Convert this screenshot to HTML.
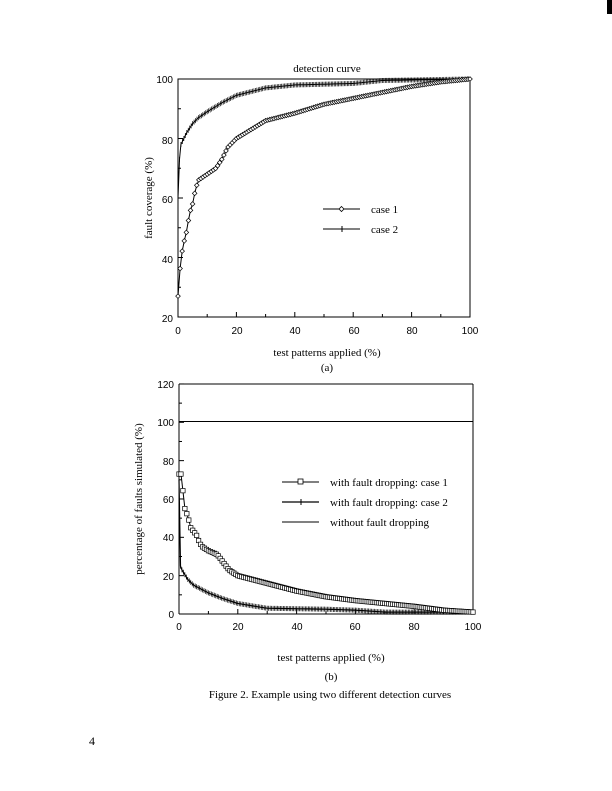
<!DOCTYPE html><html><head><style>body{margin:0;background:#fff}svg{display:block}</style></head><body>
<svg id="s" width="612" height="791" xmlns="http://www.w3.org/2000/svg" font-family="Liberation Serif, serif">
<rect x="607" y="0" width="5" height="14" fill="#000"/>
<text x="327" y="72" font-size="11" text-anchor="middle">detection curve</text>
<g font-family="Liberation Sans, sans-serif" font-size="10" text-anchor="end">
<text x="173" y="83">100</text><text x="173" y="144">80</text><text x="173" y="203">60</text><text x="173" y="263">40</text><text x="173" y="322">20</text>
</g>
<g font-family="Liberation Sans, sans-serif" font-size="10" text-anchor="middle">
<text x="178" y="334">0</text><text x="237" y="334">20</text><text x="295" y="334">40</text><text x="354" y="334">60</text><text x="412" y="334">80</text><text x="470" y="334">100</text>
</g>
<text x="327" y="356" font-size="11" text-anchor="middle">test patterns applied (%)</text>
<text x="327" y="371" font-size="11" text-anchor="middle">(a)</text>
<text transform="translate(152,198) rotate(-90)" font-size="11" text-anchor="middle">fault coverage (%)</text>
<rect x="178" y="79" width="292" height="238" fill="none" stroke="#000" stroke-width="1"/>
<line x1="323" y1="209" x2="360" y2="209" stroke="#000"/><path d="M341.5 206.5l2.5 2.5-2.5 2.5-2.5-2.5z" fill="#fff" stroke="#000" stroke-width=".8"/>
<line x1="323" y1="229" x2="360" y2="229" stroke="#000"/><line x1="342" y1="226" x2="342" y2="232" stroke="#000"/>
<text x="371" y="213" font-size="11">case 1</text><text x="371" y="233" font-size="11">case 2</text>

<g font-family="Liberation Sans, sans-serif" font-size="10" text-anchor="end">
<text x="174" y="388">120</text><text x="174" y="426">100</text><text x="174" y="465">80</text><text x="174" y="503">60</text><text x="174" y="541">40</text><text x="174" y="580">20</text><text x="174" y="618">0</text>
</g>
<g font-family="Liberation Sans, sans-serif" font-size="10" text-anchor="middle">
<text x="179" y="630">0</text><text x="238" y="630">20</text><text x="297" y="630">40</text><text x="355" y="630">60</text><text x="414" y="630">80</text><text x="473" y="630">100</text>
</g>
<text transform="translate(142,499) rotate(-90)" font-size="11" text-anchor="middle">percentage of faults simulated (%)</text>
<text x="331" y="661" font-size="11" text-anchor="middle">test patterns applied (%)</text>
<text x="331" y="680" font-size="11" text-anchor="middle">(b)</text>
<text x="330" y="698" font-size="11" text-anchor="middle">Figure 2.  Example using two different detection curves</text>
<text x="92" y="745" font-size="12" text-anchor="middle">4</text>
<line x1="179" y1="384" x2="473" y2="384" stroke="#000"/>
<line x1="179" y1="384" x2="179" y2="614" stroke="#000"/>
<line x1="179" y1="614" x2="473" y2="614" stroke="#000"/>
<line x1="473" y1="384" x2="473" y2="614" stroke="#000"/>
<line x1="179" y1="421.5" x2="473" y2="421.5" stroke="#000"/>
<line x1="282" y1="482" x2="319" y2="482" stroke="#000"/><rect x="298" y="479" width="5" height="5" fill="#fff" stroke="#000" stroke-width=".8"/>
<line x1="282" y1="502" x2="319" y2="502" stroke="#000" stroke-width="1.3"/><line x1="301" y1="499" x2="301" y2="505" stroke="#000"/>
<line x1="282" y1="522" x2="319" y2="522" stroke="#000"/>
<text x="330" y="486" font-size="11">with fault dropping: case 1</text>
<text x="330" y="506" font-size="11">with fault dropping: case 2</text>
<text x="330" y="526" font-size="11">without fault dropping</text>
<g id="g"></g>
</svg>
<script>
function interp(pts,x){for(let i=1;i<pts.length;i++){if(x<=pts[i][0]){const a=pts[i-1],b=pts[i];return a[1]+(b[1]-a[1])*(x-a[0])/(b[0]-a[0]||1);}}return pts[pts.length-1][1];}
const g=document.getElementById('g');let h='';
function series(pts,X,Y,n,mk,sw){let d='',m='';for(let i=0;i<=n;i++){const x=i*100/n;const px=X(x),py=Y(interp(pts,x));d+=(i?'L':'M')+px.toFixed(1)+' '+py.toFixed(1);
if(mk==='d')m+=`<path d="M${px} ${py-2.3}l2.3 2.3-2.3 2.3-2.3-2.3z" fill="#fff" stroke="#000" stroke-width=".7"/>`;
else if(mk==='s')m+=`<rect x="${px-2.2}" y="${py-2.2}" width="4.4" height="4.4" fill="#fff" stroke="#000" stroke-width=".7"/>`;
else if(mk==='p')m+=`<line x1="${px}" y1="${py-2.5}" x2="${px}" y2="${py+2.5}" stroke="#000" stroke-width=".7"/>`;}
h+=`<path d="${d}" fill="none" stroke="#000" stroke-width="${sw}"/>`+m;}
const Xa=x=>178+x*2.92,Ya=y=>317-(y-20)*2.975;
const Xb=x=>179+x*2.94,Yb=y=>614-y*1.917;
for(let x=0;x<=100;x+=10){h+=`<line x1="${Xa(x)}" y1="317" x2="${Xa(x)}" y2="${x%20?314:312}" stroke="#000"/>`;h+=`<line x1="${Xb(x)}" y1="614" x2="${Xb(x)}" y2="${x%20?611:609}" stroke="#000"/>`;}
for(let y=20;y<=100;y+=10)h+=`<line x1="178" y1="${Ya(y)}" x2="${y%20?181:183}" y2="${Ya(y)}" stroke="#000"/>`;
for(let y=0;y<=120;y+=10)h+=`<line x1="179" y1="${Yb(y)}" x2="${y%20?182:184}" y2="${Yb(y)}" stroke="#000"/>`;
series([[0,60],[0.5,73],[1,78],[3,82],[5,85],[7,87],[10,89],[15,92],[20,94.5],[30,97],[40,98],[60,98.5],[70,99.5],[100,100]],Xa,Ya,200,'p',1);
series([[0,27],[1,40],[2,45],[3,49],[4,55],[5,58],[6,63],[7,66],[10,68],[13,70],[15,73],[17,77],[20,80],[25,83],[30,86],[40,88.5],[50,91.5],[60,93.5],[70,95.5],[80,97.5],[90,99],[100,100]],Xa,Ya,140,'d',1);
series([[0,70],[0.5,25],[1,23],[3,18],[5,15],[10,11],[15,8],[20,5.5],[30,3],[50,2.5],[60,2],[70,1],[100,1]],Xb,Yb,200,'p',1.2);
series([[0,73],[1,73],[1.5,60],[2,55],[3,51],[4,45],[5,43],[6,41],[7,37],[8,35],[10,33],[13,31],[15,27],[17,23],[20,20],[25,18],[30,16],[40,12],[50,9],[60,7],[70,5.5],[80,4],[90,2],[100,1]],Xb,Yb,150,'s',1);
g.innerHTML=h;
</script>
</body></html>
